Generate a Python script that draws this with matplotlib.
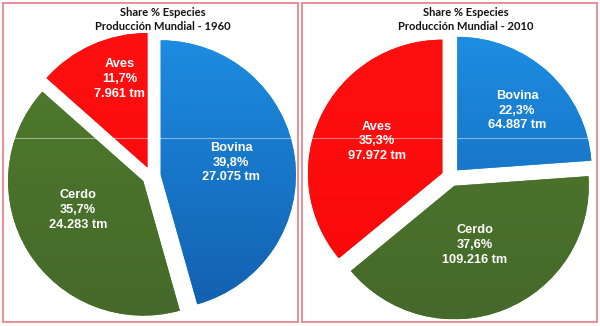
import matplotlib.pyplot as plt
import numpy as np
from matplotlib.colors import LinearSegmentedColormap
from matplotlib.patches import Rectangle

# Data
species = ['Bovina', 'Cerdo', 'Aves']
tm_1960 = [27075, 24283, 7961]
pct_1960 = ['39,8%', '35,7%', '11,7%']
tm_1960_txt = ['27.075', '24.283', '7.961']
tm_2010 = [64887, 109216, 97972]
pct_2010 = ['22,3%', '37,6%', '35,3%']
tm_2010_txt = ['64.887', '109.216', '97.972']
years = ['1960', '2010']

# top / bottom colour of each slice (slight vertical shading)
shades = [('#1d8de2', '#135fae'), ('#507c2d', '#45692a'), ('#ff1010', '#f80808')]

fig = plt.figure(figsize=(6, 3.26), dpi=100)
W, H = 600, 326


def px_axes(x0, y0, x1, y1):
    return fig.add_axes([x0 / W, 1 - y1 / H, (x1 - x0) / W, (y1 - y0) / H])


# box in pixels, xlim, ylim, title centre x, label (radius, angle offset) per slice
panels = [
    (tm_1960, pct_1960, tm_1960_txt, (8, 33, 296, 316), (-1.06, 1.07), (-1.04, 1.064), 163,
     [(0.53, 2), (0.53, -8), (0.69, -7)]),
    (tm_2010, pct_2010, tm_2010_txt, (308, 37, 592, 319), (-1.063, 1.05), (-1.063, 1.05), 466,
     [(0.63, -2), (0.47, -3), (0.54, -1)]),
]

for i, (vals, pcts, tms, box, xl, yl, tx, lab_pos) in enumerate(panels):
    ax = px_axes(*box)
    wedges, _ = ax.pie(vals, colors=[s[0] for s in shades], explode=[0.07] * 3,
                       startangle=90, counterclock=False)
    ax.set_aspect('auto')
    ax.set_xlim(*xl)
    ax.set_ylim(*yl)

    for w, (c_top, c_bot), name, p, t, (r, dth) in zip(wedges, shades, species, pcts, tms, lab_pos):
        cmap = LinearSegmentedColormap.from_list('g', [c_bot, c_top])
        grad = np.linspace(0, 1, 200).reshape(-1, 1)
        im = ax.imshow(grad, cmap=cmap, extent=[xl[0], xl[1], yl[0], yl[1]],
                       origin='lower', aspect='auto', zorder=w.get_zorder() + 0.1)
        im.set_clip_path(w)
        w.set_edgecolor('none')

        ang = np.deg2rad((w.theta1 + w.theta2) / 2 + dth)
        cx, cy = w.center
        ax.text(cx + r * np.cos(ang), cy + r * np.sin(ang), f'{name}\n{p}\n{t} tm',
                ha='center', va='center', color='white', fontweight='bold',
                fontsize=9.2, family='Liberation Sans', linespacing=1.3, zorder=5)

    ax.set_xlim(*xl)
    ax.set_ylim(*yl)
    # faint horizontal streak across the pie
    ax.axhline(yl[1] - (138 - box[1]) / (box[3] - box[1]) * (yl[1] - yl[0]),
               color='white', lw=0.8, alpha=0.45, zorder=4)

    fig.text(tx / W, 1 - 13 / H, 'Share % Especies', ha='center', va='center',
             fontsize=8, fontweight='bold', family='Lato', color='#111111')
    fig.text(tx / W, 1 - 27 / H, f'Producción Mundial - {years[i]}', ha='center',
             va='center', fontsize=8, fontweight='bold', family='Lato', color='#111111')

# panel borders
for x0, x1 in [(3, 298), (302, 597)]:
    fig.patches.append(Rectangle((x0 / W, 1 - 322 / H), (x1 - x0) / W, 319 / H,
                                 transform=fig.transFigure, fill=False,
                                 edgecolor='#e8868e', lw=1.3))

fig.savefig('out.png', dpi=100)
